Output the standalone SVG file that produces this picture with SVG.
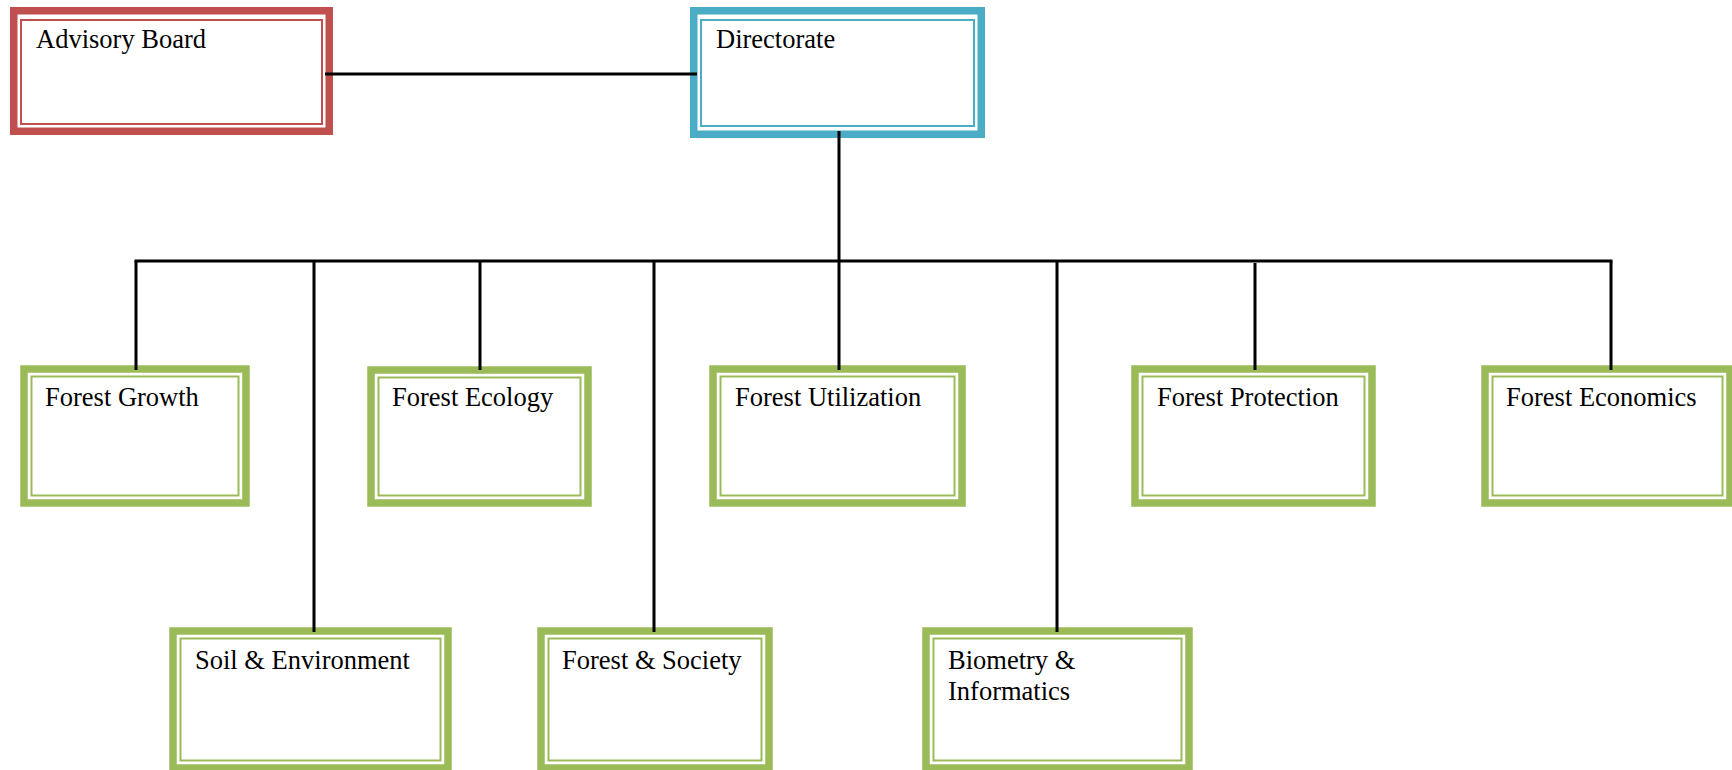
<svg xmlns="http://www.w3.org/2000/svg" width="1732" height="770" viewBox="0 0 1732 770">
<style>
.red{fill:#fff;stroke:#C0504D}
.blue{fill:#fff;stroke:#4BACC6}
.green{fill:#fff;stroke:#9BBB59}
.thick{stroke-width:7.5}
.thin{fill:none;stroke-width:2}
.lbl{font-family:"Liberation Serif","Times New Roman",serif;font-size:26.5px;fill:#000}
.conn{stroke:#000;stroke-width:3;fill:none}
</style>
<rect width="1732" height="770" fill="#fff"/>
<g id="advisory-board">
<rect class="red thick" x="13.75" y="10.75" width="315.5" height="120.5"/>
<rect class="red thin" x="21" y="20" width="301" height="104"/>
<text class="lbl" x="36" y="48">Advisory Board</text>
</g>
<g id="directorate">
<rect class="blue thick" x="693.75" y="10.75" width="287.5" height="123.5"/>
<rect class="blue thin" x="701" y="20" width="273" height="106"/>
<text class="lbl" x="716" y="48">Directorate</text>
</g>
<g id="forest-growth">
<rect class="green thick" x="24" y="369" width="222" height="134" stroke-width="8"/>
<rect class="green thin" x="31.5" y="376.5" width="207" height="119"/>
<text class="lbl" x="45" y="406">Forest Growth</text>
</g>
<g id="forest-ecology">
<rect class="green thick" x="371" y="370" width="217" height="133" stroke-width="8"/>
<rect class="green thin" x="378.5" y="377.5" width="202" height="118"/>
<text class="lbl" x="392" y="406">Forest Ecology</text>
</g>
<g id="forest-utilization">
<rect class="green thick" x="713" y="369" width="249" height="134" stroke-width="8"/>
<rect class="green thin" x="720.5" y="376.5" width="234" height="119"/>
<text class="lbl" x="735" y="406">Forest Utilization</text>
</g>
<g id="forest-protection">
<rect class="green thick" x="1135" y="369" width="237" height="134" stroke-width="8"/>
<rect class="green thin" x="1142.5" y="376.5" width="222" height="119"/>
<text class="lbl" x="1157" y="406">Forest Protection</text>
</g>
<g id="forest-economics">
<rect class="green thick" x="1485" y="369" width="245" height="134" stroke-width="8"/>
<rect class="green thin" x="1492.5" y="376.5" width="230" height="119"/>
<text class="lbl" x="1506" y="406">Forest Economics</text>
</g>
<g id="soil-environment">
<rect class="green thick" x="173" y="631" width="275" height="137" stroke-width="8"/>
<rect class="green thin" x="180.5" y="638.5" width="260" height="122"/>
<text class="lbl" x="195" y="669">Soil &amp; Environment</text>
</g>
<g id="forest-society">
<rect class="green thick" x="541" y="631" width="228" height="137" stroke-width="8"/>
<rect class="green thin" x="548.5" y="638.5" width="213" height="122"/>
<text class="lbl" x="562" y="669">Forest &amp; Society</text>
</g>
<g id="biometry-informatics">
<rect class="green thick" x="926" y="631" width="263" height="137" stroke-width="8"/>
<rect class="green thin" x="933.5" y="638.5" width="248" height="122"/>
<text class="lbl" x="948" y="669">Biometry &amp;</text>
<text class="lbl" x="948" y="700">Informatics</text>
</g>
<g id="connectors">
<line class="conn" x1="325" y1="74" x2="697" y2="74"/>
<line class="conn" x1="839" y1="131" x2="839" y2="370"/>
<line class="conn" x1="134.5" y1="261" x2="1612.5" y2="261"/>
<line class="conn" x1="136" y1="261" x2="136" y2="370"/>
<line class="conn" x1="314" y1="261" x2="314" y2="632"/>
<line class="conn" x1="480" y1="261" x2="480" y2="370"/>
<line class="conn" x1="654" y1="261" x2="654" y2="632"/>
<line class="conn" x1="1057" y1="261" x2="1057" y2="632"/>
<line class="conn" x1="1255" y1="263" x2="1255" y2="370"/>
<line class="conn" x1="1611" y1="261" x2="1611" y2="370"/>
</g>
</svg>
